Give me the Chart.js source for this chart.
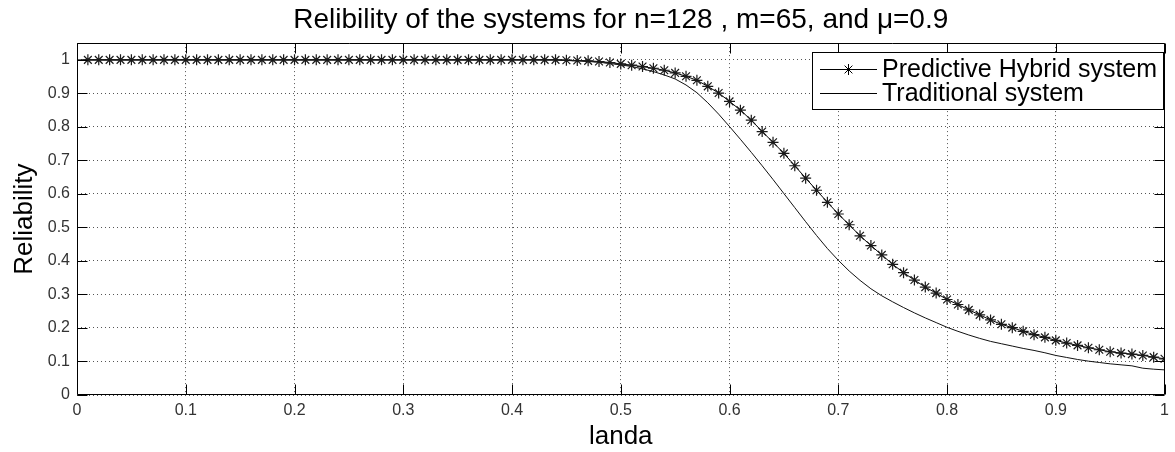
<!DOCTYPE html>
<html>
<head>
<meta charset="utf-8">
<title>Relibility of the systems</title>
<script src="https://cdn.jsdelivr.net/npm/chart.js@4.4.1/dist/chart.umd.min.js"></script>
<style>
  html, body { margin: 0; padding: 0; background: #fff; }
  #chart { display: block; }
</style>
</head>
<body>
<canvas id="chart" width="1175" height="452"></canvas>
<script>
// landa values (x axis)
const landa = [
    0, 0.01, 0.02, 0.03, 0.04, 0.05, 0.06, 0.07, 0.08, 0.09,
    0.10, 0.11, 0.12, 0.13, 0.14, 0.15, 0.16, 0.17, 0.18, 0.19,
    0.20, 0.21, 0.22, 0.23, 0.24, 0.25, 0.26, 0.27, 0.28, 0.29,
    0.30, 0.31, 0.32, 0.33, 0.34, 0.35, 0.36, 0.37, 0.38, 0.39,
    0.40, 0.41, 0.42, 0.43, 0.44, 0.45, 0.46, 0.47, 0.48, 0.49,
    0.50, 0.51, 0.52, 0.53, 0.54, 0.55, 0.56, 0.57, 0.58, 0.59,
    0.60, 0.61, 0.62, 0.63, 0.64, 0.65, 0.66, 0.67, 0.68, 0.69,
    0.70, 0.71, 0.72, 0.73, 0.74, 0.75, 0.76, 0.77, 0.78, 0.79,
    0.80, 0.81, 0.82, 0.83, 0.84, 0.85, 0.86, 0.87, 0.88, 0.89,
    0.90, 0.91, 0.92, 0.93, 0.94, 0.95, 0.96, 0.97, 0.98, 0.99,
    1.00
];

// Predictive Hybrid system (starts at landa = 0.01)
const predictive = [
    null, 1, 1, 1, 1, 1, 1, 1, 1, 1,
    1, 1, 1, 1, 1, 1, 1, 1, 1, 1,
    1, 1, 1, 1, 1, 1, 1, 1, 1, 1,
    1, 1, 1, 1, 1, 1, 1, 1, 1, 1,
    1, 1, 1, 1, 1, 0.999, 0.998, 0.997, 0.995, 0.992,
    0.988, 0.984, 0.980, 0.975, 0.969, 0.961, 0.951, 0.939, 0.921, 0.901,
    0.876, 0.850, 0.820, 0.786, 0.754, 0.721, 0.684, 0.647, 0.611, 0.575,
    0.540, 0.508, 0.475, 0.446, 0.418, 0.390, 0.365, 0.343, 0.322, 0.304,
    0.285, 0.270, 0.254, 0.239, 0.224, 0.211, 0.201, 0.190, 0.180, 0.172,
    0.163, 0.155, 0.148, 0.141, 0.135, 0.129, 0.125, 0.122, 0.118, 0.113,
    0.108
];

// Traditional system
const traditional = [
    1, 1, 1, 1, 1, 1, 1, 1, 1, 1,
    1, 1, 1, 1, 1, 1, 1, 1, 1, 1,
    1, 1, 1, 1, 1, 1, 1, 1, 1, 1,
    1, 1, 1, 1, 1, 1, 1, 1, 1, 1,
    1, 1, 1, 1, 1, 0.998, 0.997, 0.995, 0.993, 0.989,
    0.985, 0.980, 0.973, 0.965, 0.955, 0.943, 0.925, 0.902, 0.872, 0.838,
    0.801, 0.763, 0.724, 0.684, 0.643, 0.601, 0.559, 0.517, 0.476, 0.437,
    0.402, 0.370, 0.342, 0.317, 0.296, 0.278, 0.261, 0.245, 0.230, 0.216,
    0.202, 0.190, 0.179, 0.169, 0.160, 0.153, 0.146, 0.139, 0.133, 0.126,
    0.118, 0.112, 0.106, 0.101, 0.097, 0.093, 0.090, 0.087, 0.080, 0.077,
    0.075
];

const seriesNames = ['Predictive Hybrid system', 'Traditional system'];
const xTicks = [0, 0.1, 0.2, 0.3, 0.4, 0.5, 0.6, 0.7, 0.8, 0.9, 1];
const xTickLabels = ['0', '0.1', '0.2', '0.3', '0.4', '0.5', '0.6', '0.7', '0.8', '0.9', '1'];
const yTicks = [0, 0.1, 0.2, 0.3, 0.4, 0.5, 0.6, 0.7, 0.8, 0.9, 1];
const yTickLabels = ['0', '0.1', '0.2', '0.3', '0.4', '0.5', '0.6', '0.7', '0.8', '0.9', '1'];

const FONT = '"Liberation Sans", Arial, Helvetica, sans-serif';

function toPoints(xs, ys) {
    const pts = [];
    xs.forEach((x, i) => {
        if (ys[i] !== null) pts.push({ x: x, y: ys[i] });
    });
    return pts;
}

// MATLAB-like box, inward tick marks and boxed legend
const matlabFrame = {
    id: 'matlabFrame',
    afterDatasetsDraw(chart) {
        const { ctx, chartArea: a, scales } = chart;
        const L = Math.round(a.left) + 0.5, R = Math.round(a.right) - 0.5;
        const T = Math.round(a.top) + 0.5, B = Math.round(a.bottom) - 0.5;
        const tl = 10;
        ctx.save();
        ctx.strokeStyle = '#000';
        ctx.lineWidth = 1;
        ctx.setLineDash([]);
        ctx.beginPath();
        ctx.rect(L, T, R - L, B - T);
        xTicks.forEach(v => {
            const px = Math.round(scales.x.getPixelForValue(v)) + 0.5;
            ctx.moveTo(px, B); ctx.lineTo(px, B - tl);
            ctx.moveTo(px, T); ctx.lineTo(px, T + tl);
        });
        yTicks.forEach(v => {
            const py = Math.round(scales.y.getPixelForValue(v)) + 0.5;
            ctx.moveTo(L, py); ctx.lineTo(L + tl, py);
            ctx.moveTo(R, py); ctx.lineTo(R - tl, py);
        });
        ctx.stroke();

        // legend box
        const bx = 812.5, by = 52.5, bw = 351, bh = 57;
        ctx.fillStyle = '#fff';
        ctx.fillRect(bx, by, bw, bh);
        ctx.strokeRect(bx, by, bw, bh);
        const rows = [69, 93];
        ctx.font = '25px ' + FONT;
        ctx.textBaseline = 'middle';
        ctx.textAlign = 'left';
        chart.data.datasets.forEach((ds, i) => {
            const ry = rows[i] + 0.5;
            ctx.strokeStyle = '#000';
            ctx.beginPath();
            ctx.moveTo(820, ry); ctx.lineTo(877, ry);
            ctx.stroke();
            if (ds.pointRadius > 0) {
                Chart.helpers.drawPoint(ctx, {
                    pointStyle: ds.pointStyle,
                    radius: ds.pointRadius,
                    borderWidth: 1
                }, 848.5, ry);
            }
            ctx.fillStyle = '#000';
            ctx.fillText(ds.label, 882, rows[i] + 1);
        });
        ctx.restore();
    }
};

new Chart(document.getElementById('chart'), {
    type: 'line',
    data: {
        datasets: [
            {
                label: seriesNames[0],
                data: toPoints(landa, predictive),
                borderColor: '#000',
                borderWidth: 1,
                pointStyle: 'star',
                pointRadius: 5.5,
                pointBorderColor: '#1a1a1a',
                pointBackgroundColor: '#1a1a1a',
                pointBorderWidth: 1.2,
                tension: 0,
                fill: false
            },
            {
                label: seriesNames[1],
                data: toPoints(landa, traditional),
                borderColor: '#111',
                borderWidth: 1,
                pointRadius: 0,
                tension: 0,
                fill: false
            }
        ]
    },
    options: {
        responsive: false,
        animation: false,
        devicePixelRatio: 1,
        events: [],
        layout: { padding: { left: 0, right: 5, top: 0, bottom: 0 } },
        plugins: {
            legend: { display: false },
            tooltip: { enabled: false },
            title: {
                display: true,
                fullSize: false,
                text: 'Relibility of the systems for n=128 , m=65, and \u03bc=0.9',
                color: '#000',
                font: { family: FONT, size: 28, weight: 'normal' },
                padding: { top: 3, bottom: 6.5 }
            }
        },
        scales: {
            x: {
                type: 'linear',
                min: 0,
                max: 1,
                afterBuildTicks: scale => { scale.ticks = xTicks.map(v => ({ value: v })); },
                afterFit: scale => { scale.height = 57; },
                ticks: {
                    autoSkip: false,
                    maxRotation: 0,
                    padding: 6,
                    color: '#333',
                    font: { family: FONT, size: 16 },
                    callback: (v) => xTickLabels[xTicks.indexOf(v)]
                },
                grid: { color: '#555', drawTicks: false },
                border: { display: false, dash: [1, 3] },
                title: {
                    display: true,
                    text: 'landa',
                    color: '#000',
                    font: { family: FONT, size: 26 },
                    padding: { top: 0, bottom: 0 }
                }
            },
            y: {
                type: 'linear',
                min: 0,
                max: 1.05,
                afterBuildTicks: scale => { scale.ticks = yTicks.map(v => ({ value: v })); },
                afterFit: scale => { scale.width = 77; },
                ticks: {
                    padding: 7,
                    color: '#333',
                    font: { family: FONT, size: 16 },
                    callback: (v) => yTickLabels[yTicks.indexOf(v)]
                },
                grid: { color: '#555', drawTicks: false },
                border: { display: false, dash: [1, 3] },
                title: {
                    display: true,
                    text: 'Reliability',
                    color: '#000',
                    font: { family: FONT, size: 26 },
                    padding: { top: 9, bottom: 0 }
                }
            }
        }
    },
    plugins: [matlabFrame]
});
</script>
</body>
</html>
